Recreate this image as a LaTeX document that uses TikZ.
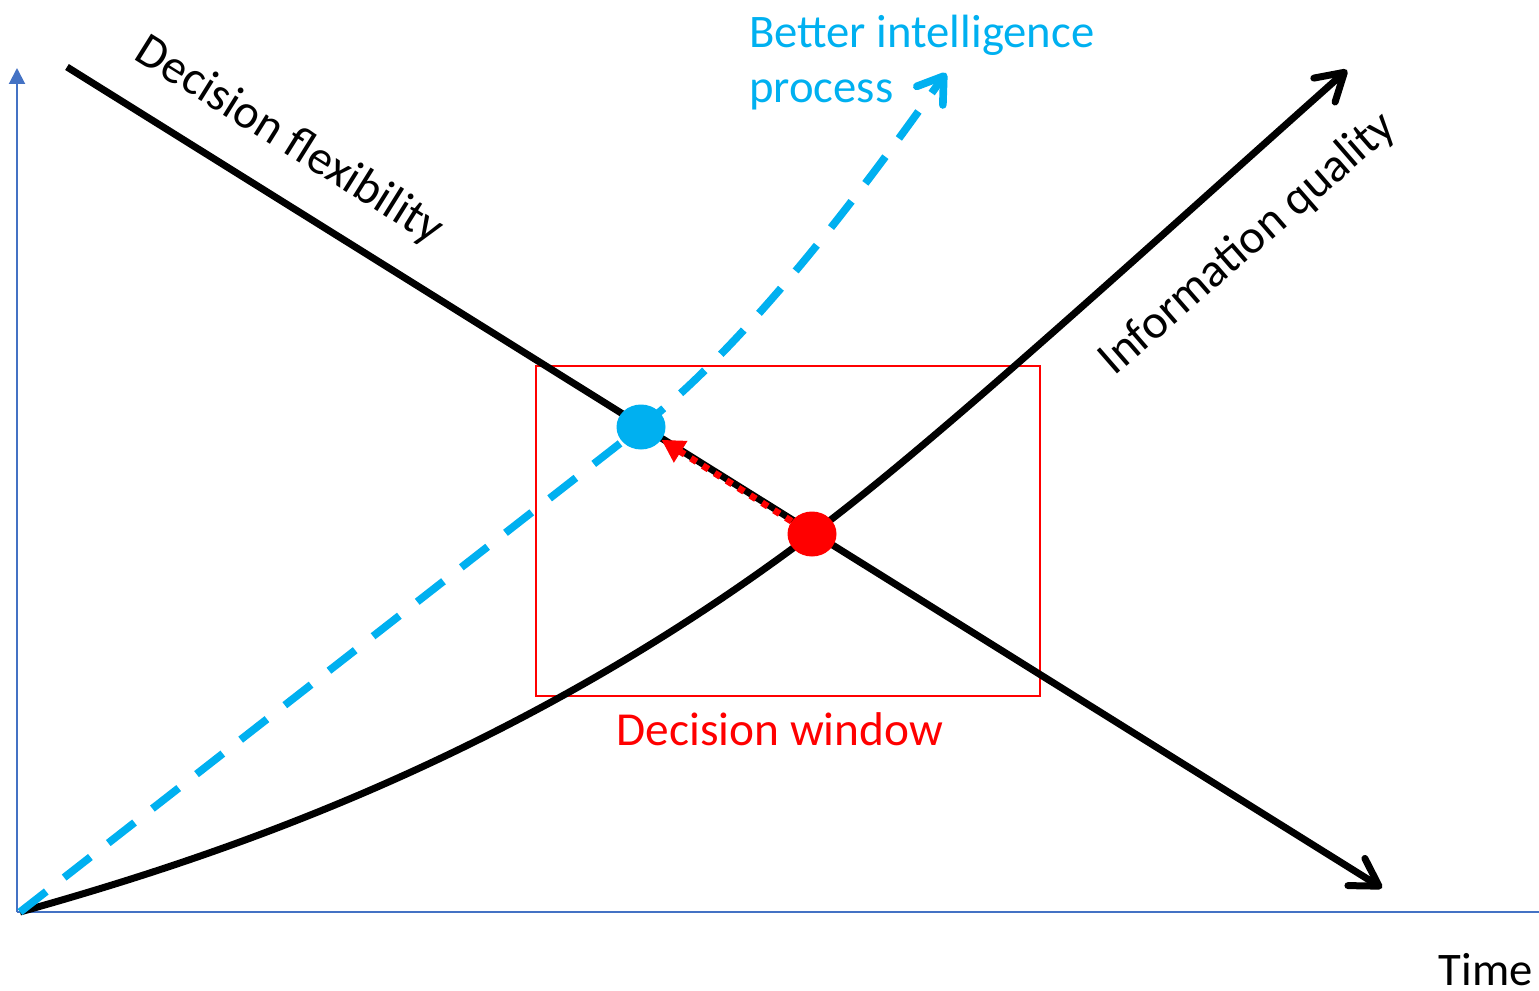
\documentclass[tikz,border=0pt]{standalone}
\usepackage{fontspec}
\setmainfont{Carlito}
\usetikzlibrary{arrows.meta,shapes.geometric}
\definecolor{axisblue}{HTML}{4472C4}
\definecolor{skyblue}{HTML}{00B0F0}
\definecolor{pred}{HTML}{FF0000}
\tikzset{
  lbl/.style={font=\fontsize{35}{41.25}\selectfont, inner sep=0pt},
  axisline/.style={draw=axisblue, line width=1.5pt},
  thick black/.style={draw=black, line width=5.25pt, -{Straight Barb[length=20pt,width=24pt,round]}},
  bluedash/.style={draw=skyblue, line width=5.75pt, dash pattern=on 25pt off 17pt, -{Straight Barb[length=18pt,width=24pt,round]}},
  dot/.style={ellipse, minimum width=36.75pt, minimum height=33.75pt, inner sep=0pt},
  reddots/.style={draw=pred, line width=5pt, dash pattern=on 5pt off 5.5pt, -{Triangle[length=17pt,width=18pt]}},
}
\begin{document}
\begin{tikzpicture}[x=0.75pt,y=-0.75pt]
\useasboundingbox (0,0) rectangle (1539,991);
% axes
\coordinate (O) at (20,912);
\coordinate (ytop) at (17,68);
\coordinate (ybot) at (17,912);
\coordinate (xend) at (1539,912);
\draw[axisline, -{Triangle[length=12pt,width=12pt]}] (ybot) -- (ytop);
\draw[axisline] (ybot) -- (xend);
% decision window box
\node[draw=pred, line width=1.5pt, minimum width=378pt, minimum height=247.5pt, inner sep=0pt] (dwbox) at (788,531) {};
% decision flexibility line
\coordinate (df0) at (67,67);
\coordinate (df1) at (1382,888);
\draw[thick black] (df0) -- (df1);
% information quality curve
\coordinate (iqmid) at (812,534);
\coordinate (iqend) at (1347,70);
\draw[thick black] (O) .. controls (220,856) and (515,758) .. (iqmid)
  .. controls (932,445) and (1147,248) .. (iqend);
% better intelligence process curve
\coordinate (bip0) at (641,427);
\coordinate (bipend) at (946,73);
\draw[bluedash] (O) -- (bip0) .. controls (760,334) and (886,157) .. (bipend);
% dots
\node[dot, fill=skyblue] (bluedot) at (641,427) {};
\node[dot, fill=pred] (reddot) at (812,534) {};
\draw[reddots] (reddot) -- (bluedot);
% labels
\node[lbl, rotate=-32, font=\fontsize{36}{42}\selectfont] (dflex) at (289,141) {Decision flexibility};
\node[lbl, rotate=41, font=\fontsize{36}{42}\selectfont] (iq) at (1248,244) {Information quality};
\node[lbl, text=skyblue, anchor=base west, align=left] (bip) at (749,103) {Better intelligence\\process};
\node[lbl, text=pred, anchor=base, font=\fontsize{35.5}{42}\selectfont] (dw) at (780,745) {Decision window};
\node[lbl, anchor=base east] (time) at (1533,985) {Time};
\end{tikzpicture}
\end{document}
